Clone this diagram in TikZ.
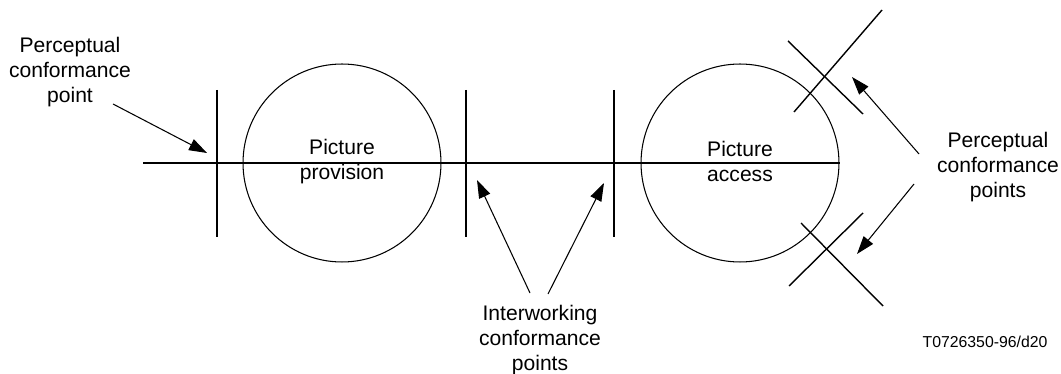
\documentclass[tikz,border=0pt]{standalone}
\usepackage{fontspec}
\setmainfont{Liberation Sans}
\usepackage{tikz}
\usetikzlibrary{arrows.meta,shapes}
\tikzstyle{block}=[circle,draw,line width=0.6pt,minimum size=3.96cm,inner sep=0pt]
\tikzstyle{label}=[align=center,font=\fontsize{12}{14.2}\selectfont,inner sep=0pt]
\tikzstyle{tick}=[draw,line width=1.1pt,-]
\tikzstyle{cross}=[draw,line width=0.8pt,-]
\tikzstyle{pointer}=[draw,line width=0.6pt,-{Triangle[length=0.36cm,width=0.24cm]}]

\begin{document}
\begin{tikzpicture}[x=0.02cm,y=-0.02cm]
        \useasboundingbox (0,0) rectangle (1061,374);
        % circles
        \node[block] (prov) at (342,163) {};
        \node[block] (acc) at (740,163) {};
        \node[label] (provtext) at (342,162) {Picture\\provision};
        \node[label] (acctext) at (740,161) {Picture\\access};
        % main line and ticks
        \coordinate (start) at (143,163);
        \draw[tick] (start) to (acc.east);
        \coordinate (t1a) at (217,90);  \coordinate (t1b) at (217,237);
        \coordinate (t2a) at (466,90);  \coordinate (t2b) at (466,237);
        \coordinate (t3a) at (614,90);  \coordinate (t3b) at (614,237);
        \draw[tick] (t1a) to (t1b);
        \draw[tick] (t2a) to (t2b);
        \draw[tick] (t3a) to (t3b);
        % crosses
        \coordinate (u1a) at (794,112); \coordinate (u1b) at (882,10);
        \coordinate (u2a) at (788,41);  \coordinate (u2b) at (863,114);
        \coordinate (l1a) at (863,213); \coordinate (l1b) at (789,286);
        \coordinate (l2a) at (801,223); \coordinate (l2b) at (883,306);
        \draw[cross] (u1a) to (u1b);
        \draw[cross] (u2a) to (u2b);
        \draw[cross] (l1a) to (l1b);
        \draw[cross] (l2a) to (l2b);
        % labels
        \node[label] (perc) at (70,72) {Perceptual\\conformance\\point};
        \node[label] (percs) at (998,167) {Perceptual\\conformance\\points};
        \node[label] (inter) at (540,340) {Interworking\\conformance\\points};
        \node[font=\fontsize{9}{11}\selectfont,inner sep=0pt] (code) at (985,342) {T0726350-96/d20};
        % pointers
        \coordinate (p0) at (113,104);  \coordinate (p0tip) at (207,153);
        \coordinate (p1) at (530,293);  \coordinate (p1tip) at (477,180);
        \coordinate (p2) at (548,294);  \coordinate (p2tip) at (604,183);
        \coordinate (p3) at (919,154);  \coordinate (p3tip) at (852,77);
        \coordinate (p4) at (914,184);  \coordinate (p4tip) at (857,254);
        \draw[pointer] (p0) to (p0tip);
        \draw[pointer] (p1) to (p1tip);
        \draw[pointer] (p2) to (p2tip);
        \draw[pointer] (p3) to (p3tip);
        \draw[pointer] (p4) to (p4tip);
      \end{tikzpicture}
\end{document}
